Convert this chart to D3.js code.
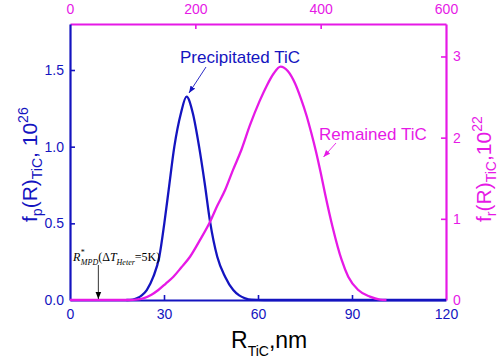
<!DOCTYPE html>
<html>
<head>
<meta charset="utf-8">
<script src="https://cdn.jsdelivr.net/npm/d3@7"></script>
<style>
  html, body { margin: 0; padding: 0; background: #fff; }
  svg { display: block; }
</style>
</head>
<body>
<svg id="chart" width="500" height="358"></svg>
<script>
// ---------- data ----------
const precipR = [18, 20, 21.3, 23, 24.5, 26.6, 28.5, 30.1, 31.5, 33.3, 35.4, 37.2, 39.2, 41.2, 43.0, 44.7, 47.0, 49.5, 52.1, 54, 55.9, 58, 62, 120];
const precipF = [0, 0.003, 0.011, 0.032, 0.065, 0.152, 0.282, 0.500, 0.72, 1.00, 1.218, 1.326, 1.218, 1.00, 0.76, 0.511, 0.282, 0.152, 0.065, 0.03, 0.011, 0.002, 0, 0];

const remainR = [0, 19, 21, 23.4, 26, 28.2, 30.5, 33.0, 35.5, 38.3, 41.5, 44.7, 47, 49.5, 52, 54.8, 57.4, 60.5, 62.8, 65, 67.2, 69.5, 71.8, 73.7, 75.5, 77, 78.5, 80, 81.4, 83.8, 86.7, 88.8, 92.0, 95.7, 98.9, 101];
const remainF = [0, 0, 0.004, 0.021, 0.065, 0.123, 0.2, 0.287, 0.40, 0.533, 0.74, 0.964, 1.16, 1.355, 1.6, 1.86, 2.15, 2.45, 2.64, 2.79, 2.874, 2.82, 2.669, 2.48, 2.27, 2.06, 1.83, 1.57, 1.31, 0.90, 0.493, 0.287, 0.123, 0.041, 0.005, 0];

const bottomTicks = [0, 30, 60, 90, 120];
const topTicks = [0, 200, 400, 600];
const leftTicks = [0, 0.5, 1.0, 1.5];
const rightTicks = [0, 1, 2, 3];

// ---------- setup ----------
const BLUE = "#1414c0";
const MAG = "#e619e6";
const FONT = "'Liberation Sans', Arial, sans-serif";
const SERIF = "'Liberation Serif', 'Times New Roman', serif";

const svg = d3.select("#chart");
const L = 70, R = 446, T = 24, B = 300;

const x = d3.scaleLinear().domain([0, 120]).range([L, R]);
const xTop = d3.scaleLinear().domain([0, 600]).range([L, R]);
const yL = d3.scaleLinear().domain([0, 1.8]).range([B, T]);
const yR = d3.scaleLinear().domain([0, 3.4]).range([B, T]);

function styleAxis(g, color, edgeVals) {
  g.select(".domain").attr("stroke", color).attr("stroke-width", 2.2);
  g.selectAll(".tick line").attr("stroke", color).attr("stroke-width", 1.6);
  g.selectAll(".tick text").attr("fill", color).attr("font-family", FONT).attr("font-size", 14);
  g.selectAll(".tick").filter(d => edgeVals.includes(d)).select("line").remove();
}

// axes
const gB = svg.append("g").attr("transform", `translate(0,${B})`)
  .call(d3.axisBottom(x).tickValues(bottomTicks).tickSizeInner(-5).tickSizeOuter(0).tickPadding(9));
styleAxis(gB, BLUE, [0, 120]);

const gT = svg.append("g").attr("transform", `translate(0,${T})`)
  .call(d3.axisTop(xTop).tickValues(topTicks).tickSizeInner(-5).tickSizeOuter(0).tickPadding(10));
styleAxis(gT, MAG, [0, 600]);

const gL = svg.append("g").attr("transform", `translate(${L},0)`)
  .call(d3.axisLeft(yL).tickValues(leftTicks).tickFormat(d3.format(".1f")).tickSizeInner(-5).tickSizeOuter(0).tickPadding(6));
styleAxis(gL, BLUE, [0]);

const gR = svg.append("g").attr("transform", `translate(${R},0)`)
  .call(d3.axisRight(yR).tickValues(rightTicks).tickFormat(d3.format("d")).tickSizeInner(-5).tickSizeOuter(0).tickPadding(7));
styleAxis(gR, MAG, [0]);

// curves
const precip = precipR.map((r, i) => [r, precipF[i]]);
const remain = remainR.map((r, i) => [r, remainF[i]]);

svg.append("path").datum(precip)
  .attr("fill", "none").attr("stroke", BLUE).attr("stroke-width", 2.3)
  .attr("d", d3.line().x(d => x(d[0])).y(d => yL(d[1])).curve(d3.curveMonotoneX));

svg.append("path").datum(remain)
  .attr("fill", "none").attr("stroke", MAG).attr("stroke-width", 2.3)
  .attr("d", d3.line().x(d => x(d[0])).y(d => yR(d[1])).curve(d3.curveMonotoneX));

// arrow markers
const defs = svg.append("defs");
function marker(id, color) {
  defs.append("marker").attr("id", id).attr("viewBox", "0 0 10 10")
    .attr("refX", 10).attr("refY", 5).attr("markerWidth", 7).attr("markerHeight", 7)
    .attr("markerUnits", "userSpaceOnUse").attr("orient", "auto")
    .append("path").attr("d", "M0,1 L10,5 L0,9 Z").attr("fill", color);
}
marker("arB", BLUE); marker("arM", MAG); marker("arK", "#000");

// annotations
svg.append("text").attr("x", 180).attr("y", 63).attr("fill", BLUE)
  .attr("font-family", FONT).attr("font-size", 17).text("Precipitated TiC");
svg.append("line").attr("x1", 206).attr("y1", 67).attr("x2", 189).attr("y2", 93)
  .attr("stroke", BLUE).attr("stroke-width", 0.9).attr("marker-end", "url(#arB)");

svg.append("text").attr("x", 319).attr("y", 140).attr("fill", MAG)
  .attr("font-family", FONT).attr("font-size", 17).text("Remained TiC");
svg.append("line").attr("x1", 336).attr("y1", 143).attr("x2", 323.5).attr("y2", 157)
  .attr("stroke", MAG).attr("stroke-width", 0.9).attr("marker-end", "url(#arM)");

// R*_MPD annotation
const ann = svg.append("text").attr("x", 73).attr("y", 261)
  .attr("font-family", SERIF).attr("font-size", 12).attr("fill", "#000");
ann.append("tspan").attr("font-style", "italic").text("R");
ann.append("tspan").attr("font-size", 8).attr("dy", -6).attr("dx", 0.5).text("*");
ann.append("tspan").attr("font-size", 8).attr("font-style", "italic").attr("dy", 10).attr("dx", -4).text("MPD");
ann.append("tspan").attr("dy", -4).text("(Δ");
ann.append("tspan").attr("font-style", "italic").text("T");
ann.append("tspan").attr("font-size", 8).attr("font-style", "italic").attr("dy", 4).text("Heter");
ann.append("tspan").attr("dy", -4).text("=5K)");
svg.append("line").attr("x1", x(9.05)).attr("y1", 265).attr("x2", x(9.05)).attr("y2", 299)
  .attr("stroke", "#000").attr("stroke-width", 0.8).attr("marker-end", "url(#arK)");

// axis titles
const xt = svg.append("text").attr("x", 231).attr("y", 348)
  .attr("font-family", FONT).attr("font-size", 23).attr("fill", "#000");
xt.append("tspan").text("R");
xt.append("tspan").attr("font-size", 14).attr("dy", 8).text("TiC");
xt.append("tspan").attr("dy", -8).text(",nm");

const lt = svg.append("text").attr("transform", "translate(37,222) rotate(-90)")
  .attr("font-family", FONT).attr("font-size", 21).attr("fill", BLUE);
lt.append("tspan").text("f");
lt.append("tspan").attr("font-size", 14).attr("dy", 5).text("p");
lt.append("tspan").attr("dy", -5).text("(R)");
lt.append("tspan").attr("font-size", 14).attr("dy", 5).text("TiC");
lt.append("tspan").attr("dy", -5).text(", 10");
lt.append("tspan").attr("font-size", 14).attr("dy", -9).text("26");

const rt = svg.append("text").attr("transform", "translate(491,222) rotate(-90)")
  .attr("font-family", FONT).attr("font-size", 21).attr("fill", MAG);
rt.append("tspan").text("f");
rt.append("tspan").attr("font-size", 14).attr("dy", 5).text("r");
rt.append("tspan").attr("dy", -5).text("(R)");
rt.append("tspan").attr("font-size", 14).attr("dy", 5).text("TiC");
rt.append("tspan").attr("dy", -5).text(",10");
rt.append("tspan").attr("font-size", 14).attr("dy", -9).text("22");
</script>
</body>
</html>
